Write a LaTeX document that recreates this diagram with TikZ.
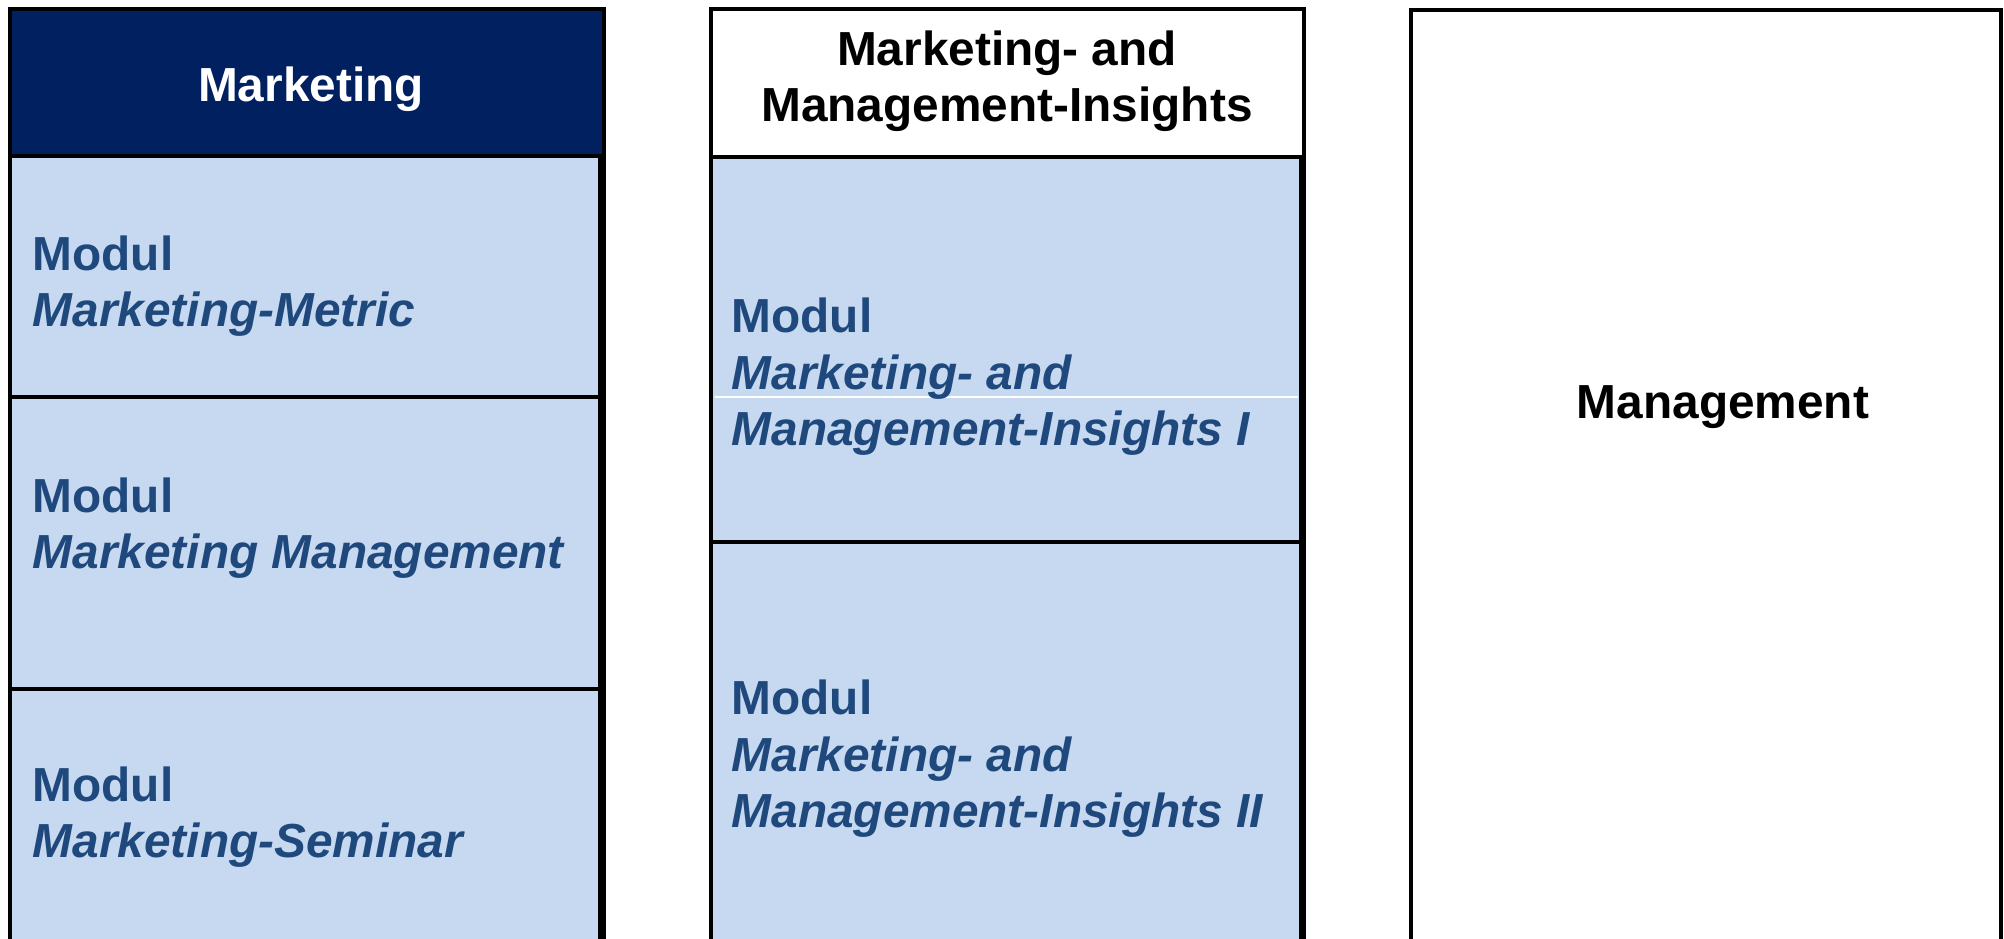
\documentclass[tikz,border=0pt]{standalone}
\usepackage{fontspec}
\setmainfont{Liberation Sans}
\usetikzlibrary{positioning}

\definecolor{headblue}{HTML}{002060}
\definecolor{modfill}{HTML}{C6D9F1}
\definecolor{modtext}{HTML}{1F497D}

\tikzset{
  colframe/.style={draw=black,line width=0.9pt,anchor=north west,inner sep=0pt,outer sep=0pt},
  modbox/.style={draw=black,fill=modfill,line width=0.9pt,inner sep=0pt,outer sep=0pt,minimum width=5.90cm},
  modlabel/.style={anchor=base west,align=left,inner sep=0pt,text=modtext},
}

\begin{document}
\begin{tikzpicture}[font=\fontsize{13.6pt}{16.2pt}\selectfont\bfseries]
  \useasboundingbox (0,0) rectangle (20.04,9.39);

  % columns
  \node[colframe,fill=headblue,minimum width=5.94cm,minimum height=9.50cm] (lcol) at (0.10,9.30) {};
  \node[colframe,fill=white,minimum width=5.93cm,minimum height=9.50cm] (mcol) at (7.11,9.30) {};
  \node[colframe,fill=white,minimum width=5.90cm,minimum height=9.45cm] (rcol) at (14.11,9.29) {};

  % modules
  \node[modbox,anchor=north west,minimum height=2.41cm] (l1) at ([yshift=-1.47cm]lcol.north west) {};
  \node[modbox,minimum height=2.92cm,below=0pt of l1] (l2) {};
  \node[modbox,minimum height=2.70cm,below=0pt of l2] (l3) {};
  \node[modbox,anchor=north west,minimum height=3.85cm] (m1) at ([yshift=-1.48cm]mcol.north west) {};
  \node[modbox,minimum height=4.10cm,below=0pt of m1] (m2) {};
  \draw[white,line width=0.4pt,shorten <=1pt,shorten >=1pt] (m1.west |- l1.south) -- (m1.east |- l1.south);

  % headings
  \node[anchor=base,inner sep=0pt,text=white] (lhead) at (3.11,8.37) {Marketing};
  \node[anchor=base,inner sep=0pt,align=center] (mhead) at (10.07,8.17) {Marketing- and\\Management-Insights};
  \node[anchor=base,inner sep=0pt] (rhead) at (17.23,5.20) {Management};

  % module texts
  \node[modlabel] (l1text) at (0.32,6.12) {Modul\\\textit{Marketing-Metric}};
  \node[modlabel] (l2text) at (0.32,3.70) {Modul\\\textit{Marketing Management}};
  \node[modlabel] (l3text) at (0.32,0.81) {Modul\\\textit{Marketing-Seminar}};
  \node[modlabel] (m1text) at (7.31,4.93) {Modul\\\textit{Marketing- and}\\\textit{Management-Insights I}};
  \node[modlabel] (m2text) at (7.31,1.11) {Modul\\\textit{Marketing- and}\\\textit{Management-Insights II}};
\end{tikzpicture}
\end{document}
